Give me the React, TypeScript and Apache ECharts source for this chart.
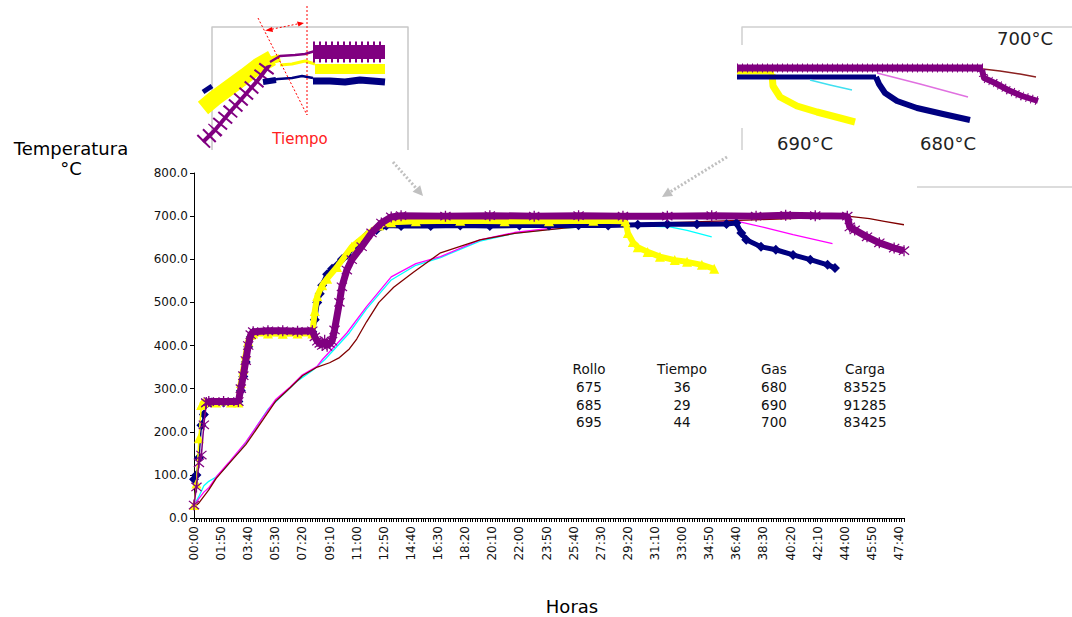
import React, { useEffect, useRef } from "react";
import * as echarts from "echarts";

// ---- categories: every 10 minutes from 00:00 to 48:00 ----
const START_MIN = 0;
const END_MIN = 2880;
const STEP_MIN = 10;
const pad = (n: number) => (n < 10 ? "0" + n : "" + n);
const fmt = (m: number) => pad(Math.floor(m / 60)) + ":" + pad(m % 60);
const categories: string[] = [];
for (let m = START_MIN; m <= END_MIN; m += STEP_MIN) categories.push(fmt(m));

// ---- gas temperature series (thick, with markers) ----
const gas680: [string, number][] = [
  ["00:00", 90], ["00:10", 100], ["00:20", 140], ["00:30", 215], ["00:40", 240], ["00:50", 265],
  ["01:10", 268], ["02:00", 268], ["03:00", 270], ["03:10", 295], ["03:20", 328], ["03:30", 362],
  ["03:40", 397], ["03:50", 420], ["04:00", 430], ["05:00", 432], ["06:00", 430], ["07:00", 431],
  ["08:00", 432], ["08:10", 460], ["08:20", 500], ["08:30", 520], ["08:40", 540], ["09:00", 565],
  ["09:20", 578], ["10:00", 600], ["10:20", 610], ["11:00", 635], ["11:40", 655], ["12:20", 668],
  ["13:00", 678], ["14:00", 677], ["16:00", 677], ["18:00", 678], ["20:00", 677], ["22:00", 678],
  ["24:00", 678], ["26:00", 679], ["28:00", 678], ["30:00", 680], ["32:00", 681], ["34:00", 681],
  ["36:00", 682], ["36:40", 684], ["37:00", 661], ["37:20", 645], ["38:20", 629], ["39:20", 622],
  ["40:30", 610], ["41:40", 599], ["42:50", 587], ["43:20", 580],
];
const gas690: [string, number][] = [
  ["00:00", 30], ["00:10", 80], ["00:20", 185], ["00:30", 262], ["00:40", 268], ["01:30", 268],
  ["02:30", 268], ["03:00", 268], ["03:10", 313], ["03:20", 345], ["03:30", 380], ["03:40", 410],
  ["03:50", 425], ["04:00", 428], ["05:00", 428], ["06:00", 427], ["07:00", 428], ["08:00", 428],
  ["08:10", 480], ["08:20", 515], ["08:40", 540], ["09:00", 555], ["09:40", 582], ["10:40", 629],
  ["11:40", 657], ["12:30", 678], ["13:20", 686], ["15:00", 688], ["18:00", 689], ["21:00", 688],
  ["24:00", 688], ["27:00", 689], ["29:10", 688], ["29:20", 661], ["29:40", 640], ["30:00", 628],
  ["30:40", 617], ["31:30", 606], ["32:30", 598], ["33:20", 594], ["34:20", 587], ["35:10", 578],
];
const gas700: [string, number][] = [
  ["00:00", 30], ["00:10", 72], ["00:20", 128], ["00:30", 146], ["00:40", 216], ["00:50", 267],
  ["01:00", 270], ["02:00", 270], ["03:00", 270], ["03:10", 300], ["03:20", 330], ["03:30", 365],
  ["03:40", 400], ["03:50", 425], ["04:00", 432], ["05:00", 434], ["06:00", 434], ["07:00", 433],
  ["08:00", 434], ["08:10", 420], ["08:20", 410], ["08:30", 405], ["08:40", 400], ["08:50", 412],
  ["09:00", 398], ["09:10", 405], ["09:20", 410], ["09:30", 436], ["09:50", 500], ["10:00", 536],
  ["10:20", 575], ["10:40", 599], ["11:20", 629], ["12:00", 661], ["12:40", 684], ["13:20", 698],
  ["14:00", 701], ["17:00", 700], ["20:00", 701], ["23:00", 700], ["26:00", 701], ["29:00", 700],
  ["32:00", 700], ["35:00", 701], ["38:00", 700], ["40:00", 702], ["42:00", 701], ["44:10", 700],
  ["44:20", 675], ["44:40", 668], ["45:30", 652], ["46:20", 638], ["47:20", 626], ["48:00", 620],
];
// where each gas curve turns from separate markers into a dense marker band
const gas680Cut = "00:50";
const gas690Cut = "00:30";
const gas700Cut = "00:50";

// ---- load temperature series (thin lines) ----
const load685: [string, number][] = [
  ["00:00", 30], ["00:20", 50], ["00:40", 75], ["01:00", 85], ["01:30", 95], ["02:10", 118],
  ["02:40", 140], ["03:10", 158], ["04:00", 200], ["05:00", 252], ["06:00", 285], ["07:00", 318],
  ["08:00", 342], ["08:50", 367], ["10:30", 429], ["11:40", 485], ["13:20", 552], ["15:00", 586],
  ["16:40", 604], ["19:20", 642], ["21:40", 660], ["24:10", 670], ["26:40", 676], ["29:40", 678],
  ["32:10", 675], ["33:20", 667], ["35:00", 652],
];
const load675: [string, number][] = [
  ["00:00", 30], ["00:20", 45], ["00:40", 60], ["01:00", 70], ["01:30", 95], ["02:20", 128],
  ["03:30", 176], ["04:40", 234], ["05:30", 274], ["06:30", 304], ["07:20", 332], ["08:20", 352],
  ["08:40", 367], ["10:20", 429], ["11:40", 490], ["13:20", 559], ["15:00", 590], ["16:40", 606],
  ["19:20", 645], ["21:40", 662], ["24:10", 672], ["26:40", 678], ["31:40", 683], ["36:50", 687],
  ["38:40", 673], ["40:30", 657], ["43:10", 636],
];
const load695: [string, number][] = [
  ["00:00", 25], ["00:20", 35], ["00:40", 50], ["01:00", 65], ["01:30", 92], ["02:20", 125],
  ["03:30", 170], ["04:40", 228], ["05:30", 270], ["06:30", 302], ["07:20", 330], ["08:20", 350],
  ["09:10", 360], ["09:50", 372], ["10:30", 392], ["11:00", 415], ["11:40", 455], ["12:30", 500],
  ["13:30", 535], ["14:50", 570], ["16:40", 615], ["19:20", 645], ["21:40", 660], ["25:00", 672],
  ["28:20", 680], ["33:20", 686], ["38:20", 692], ["43:20", 698], ["44:10", 700], ["45:40", 694],
  ["46:40", 688], ["48:00", 680],
];

// ---- table ----
const tableHeaders = ["Rollo", "Tiempo", "Gas", "Carga"];
const rollos = ["675", "685", "695"];
const tiempos = ["36", "29", "44"];
const gases = ["680", "690", "700"];
const cargas = ["83525", "91285", "83425"];

// ---- y axis ----
const Y_MIN = 0;
const Y_MAX = 800;
const Y_STEP = 100;

const FONT = '"DejaVu Sans", Verdana, sans-serif';
const STAR =
  "path://M9,0H11V20H9Z M1.5,3.2L2.8,1.6L18.5,16.8L17.2,18.4Z M17.2,1.6L18.5,3.2L2.8,18.4L1.5,16.8Z";

function pl(points: number[][], stroke: string, lineWidth: number, dash?: number[]) {
  return {
    type: "polyline",
    silent: true,
    z: 50,
    shape: { points },
    style: { stroke, lineWidth, fill: null, lineDash: dash, lineCap: "butt", lineJoin: "round" },
  };
}
function poly(points: number[][], fill: string) {
  return { type: "polygon", silent: true, z: 50, shape: { points }, style: { fill } };
}
function txt(x: number, y: number, text: string, size: number, fill = "#000", align = "center") {
  return {
    type: "text",
    silent: true,
    z: 60,
    x,
    y,
    style: { text, fill, font: `${size}px ${FONT}`, align, verticalAlign: "middle" },
  };
}

function buildGraphics() {
  const g: any[] = [];
  // axis titles
  g.push(txt(71, 148, "Temperatura", 18));
  g.push(txt(71, 168, "°C", 18));
  g.push(txt(572, 606, "Horas", 18));

  // table
  const colX = [589, 682, 774, 865];
  const rowY = [369, 387, 405, 422];
  tableHeaders.forEach((h, i) => g.push(txt(colX[i], rowY[0], h, 13.5, "#111")));
  [rollos, tiempos, gases, cargas].forEach((col, i) =>
    col.forEach((v, r) => g.push(txt(colX[i], rowY[r + 1], v, 13.5, "#111")))
  );

  // ---------- left inset ----------
  g.push(pl([[212, 150], [212, 27], [408, 27], [408, 150]], "#c8c8c8", 1.5));
  g.push(pl([[203, 108], [215, 98], [230, 87], [245, 76], [258, 66], [272, 58]], "#ffff00", 16));
  g.push(pl([[203, 92], [212, 86]], "#000080", 5));
  g.push(pl([[203, 142], [215, 130], [230, 112], [245, 95], [258, 80], [270, 64]], "#800080", 4));
  g.push(pl([[203, 142], [215, 130], [230, 112], [245, 95], [258, 80], [270, 64]], "#800080", 18, [2, 6]));
  g.push(pl([[265, 62], [280, 58]], "#ffff00", 8));
  g.push(pl([[270, 62], [280, 56], [295, 55], [305, 54], [315, 51]], "#800080", 2.5));
  g.push(pl([[280, 65], [292, 64], [305, 61], [315, 64]], "#ffff00", 3));
  g.push(pl([[263, 82], [276, 80]], "#000080", 6));
  g.push(pl([[266, 81], [278, 79], [292, 78], [302, 76], [313, 78]], "#000080", 2.5));
  g.push(pl([[315, 69], [385, 69]], "#ffff00", 10));
  g.push(pl([[313, 81], [330, 81], [345, 82], [360, 80], [385, 82]], "#000080", 7));
  g.push(pl([[313, 52], [385, 52]], "#800080", 14));
  g.push(pl([[313, 52], [385, 52]], "#800080", 21, [2, 4]));
  // red dotted guides
  g.push(pl([[258, 18], [307, 115]], "#ff0000", 1, [2, 2]));
  g.push(pl([[307, 6], [307, 115]], "#ff0000", 1, [2, 2]));
  g.push(pl([[268, 30], [302, 23]], "#ff0000", 1, [2, 2]));
  g.push(poly([[304, 23], [297, 21.5], [298.5, 26.5]], "#ff0000"));
  g.push(poly([[265, 30.5], [272, 27], [273, 32]], "#ff0000"));
  g.push(txt(300, 139, "Tiempo", 15, "#ff2020"));

  // ---------- right inset ----------
  g.push(pl([[742, 45], [742, 27], [1072, 27]], "#d0d0d0", 1.5));
  g.push(pl([[742, 128], [742, 150]], "#d0d0d0", 1.5));
  g.push(pl([[917, 187], [1072, 187]], "#d0d0d0", 1.5));
  g.push(pl([[737, 72], [774, 72]], "#ffff00", 5));
  g.push(pl([[772, 74], [773, 86], [780, 97], [797, 106], [817, 112], [840, 118], [855, 122]], "#ffff00", 7));
  g.push(pl([[737, 77], [876, 77]], "#000080", 5));
  g.push(pl([[876, 77], [879, 84], [885, 93], [897, 101], [917, 108], [943, 114], [970, 120]], "#000080", 6));
  g.push(pl([[810, 80], [830, 85], [852, 90]], "#40e0f0", 1.5));
  g.push(pl([[877, 73], [920, 84], [968, 97]], "#e070e0", 1.5));
  g.push(pl([[737, 68], [983, 68]], "#800080", 7));
  g.push(pl([[737, 68], [983, 68]], "#800080", 9, [1, 4]));
  g.push(pl([[983, 69], [1000, 71], [1020, 74], [1036, 77]], "#8b2020", 1.5));
  g.push(pl([[982, 70], [984, 78], [995, 83], [1008, 90], [1022, 96], [1038, 101]], "#800080", 6));
  g.push(pl([[982, 70], [984, 78], [995, 83], [1008, 90], [1022, 96], [1038, 101]], "#800080", 9, [1, 4]));
  g.push(txt(1025, 38, "700°C", 18, "#222"));
  g.push(txt(805, 143, "690°C", 18, "#222"));
  g.push(txt(948, 143, "680°C", 18, "#222"));

  // ---------- grey dotted arrows ----------
  g.push(pl([[393, 162], [416, 188]], "#c0c0c0", 3, [2, 2]));
  g.push(poly([[423, 196], [412.6, 191.8], [420.2, 185.2]], "#c0c0c0"));
  g.push(pl([[727, 157], [670, 192]], "#c0c0c0", 3, [2, 2]));
  g.push(poly([[662, 197], [673, 196], [668, 187.5]], "#c0c0c0"));
  return g;
}

function thin(name: string, data: [string, number][], color: string) {
  return {
    name,
    type: "line",
    data,
    symbol: "none",
    z: 2,
    lineStyle: { color, width: 1.3 },
  };
}
function marked(
  name: string,
  data: [string, number][],
  color: string,
  symbol: string,
  size: number,
  width: number,
  z: number
) {
  return {
    name,
    type: "line",
    data,
    symbol,
    symbolSize: size,
    showAllSymbol: true,
    z,
    itemStyle: { color, borderWidth: 0 },
    lineStyle: { color, width },
  };
}
// early part (separate markers, thin connector) + band part (thick)
function gasSeries(
  name: string,
  data: [string, number][],
  cut: string,
  color: string,
  symbol: string,
  size: number,
  width: number,
  z: number
) {
  const early = data.filter((p) => p[0] <= cut);
  const band = data.filter((p) => p[0] >= cut);
  return [
    marked(name, early, color, symbol, size, 1.5, z),
    marked(name, band, color, symbol, size, width, z),
  ];
}

export default function App() {
  const ref = useRef<HTMLDivElement>(null);
  useEffect(() => {
    const chart = echarts.init(ref.current!, undefined, { renderer: "svg" });
    const option: any = {
      animation: false,
      backgroundColor: "#ffffff",
      grid: { left: 194, right: 168, top: 173, bottom: 99, containLabel: false },
      xAxis: {
        type: "category",
        data: categories,
        boundaryGap: false,
        axisLine: { show: true, lineStyle: { color: "#000", width: 1 } },
        axisTick: { show: true, interval: 0, length: 4, lineStyle: { color: "#000", width: 1 } },
        axisLabel: {
          interval: 10,
          rotate: 90,
          margin: 8,
          color: "#111",
          fontSize: 12,
          fontFamily: FONT,
        },
        splitLine: { show: false },
      },
      yAxis: {
        type: "value",
        min: Y_MIN,
        max: Y_MAX,
        interval: Y_STEP,
        axisLine: { show: true, lineStyle: { color: "#000", width: 1 } },
        axisTick: { show: true, length: 4, lineStyle: { color: "#000" } },
        axisLabel: {
          color: "#111",
          fontSize: 12,
          fontFamily: FONT,
          margin: 6,
          formatter: (v: number) => v.toFixed(1),
        },
        splitLine: { show: false },
      },
      series: [
        thin("Carga 685", load685, "#00ffff"),
        thin("Carga 675", load675, "#ff00ff"),
        thin("Carga 695", load695, "#800000"),
        ...gasSeries("Gas 680", gas680, gas680Cut, "#000080", "diamond", 10, 5, 3),
        ...gasSeries("Gas 690", gas690, gas690Cut, "#ffff00", "triangle", 10, 6, 4),
        ...gasSeries("Gas 700", gas700, gas700Cut, "#800080", STAR, 11, 7, 5),
      ],
      graphic: buildGraphics(),
    };
    chart.setOption(option);
    return () => chart.dispose();
  }, []);
  return (
    <div
      ref={ref}
      style={{ position: "fixed", left: 0, top: 0, width: 1072, height: 617, background: "#fff" }}
    />
  );
}
